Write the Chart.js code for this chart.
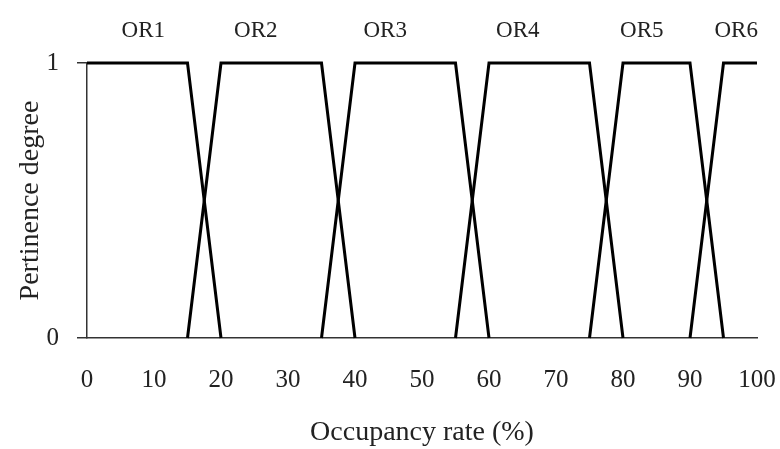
<!DOCTYPE html>
<html>
<head>
<meta charset="utf-8">
<script src="https://cdn.jsdelivr.net/npm/chart.js@4.4.0/dist/chart.umd.min.js"></script>
<style>
  html, body { margin: 0; padding: 0; background: #fff; }
  #wrap { width: 780px; height: 449px; }
</style>
</head>
<body>
<div id="wrap"><canvas id="fuzzyChart"></canvas></div>
<script>
// Membership functions for occupancy rate classes
const setNames = ['OR1', 'OR2', 'OR3', 'OR4', 'OR5', 'OR6'];
const or1X = [0, 15, 20];          const or1Y = [1, 1, 0];
const or2X = [15, 20, 35, 40];     const or2Y = [0, 1, 1, 0];
const or3X = [35, 40, 55, 60];     const or3Y = [0, 1, 1, 0];
const or4X = [55, 60, 75, 80];     const or4Y = [0, 1, 1, 0];
const or5X = [75, 80, 90, 95];     const or5Y = [0, 1, 1, 0];
const or6X = [90, 95, 100];        const or6Y = [0, 1, 1];
// x position of each class label (data units)
const labelX = [8.4, 25.2, 44.5, 64.3, 82.8, 96.9];
const xTicks = [0, 10, 20, 30, 40, 50, 60, 70, 80, 90, 100];
const yTicks = [0, 1];

const serif = '"Liberation Serif", "DejaVu Serif", serif';
const xs = [or1X, or2X, or3X, or4X, or5X, or6X];
const ys = [or1Y, or2Y, or3Y, or4Y, or5Y, or6Y];

const datasets = setNames.map((name, i) => ({
    label: name,
    data: xs[i].map((x, j) => ({ x: x, y: ys[i][j] })),
    borderColor: '#000',
    borderWidth: 3,
    pointRadius: 0,
    fill: false,
    tension: 0,
    clip: false
}));

// Draw OR labels above the plateaus
const setLabels = {
    id: 'setLabels',
    afterDraw(chart) {
        const ctx = chart.ctx;
        const xScale = chart.scales.x;
        ctx.save();
        ctx.font = '23px ' + serif;
        ctx.fillStyle = '#222';
        ctx.textAlign = 'center';
        ctx.textBaseline = 'middle';
        setNames.forEach((name, i) => {
            ctx.fillText(name, xScale.getPixelForValue(labelX[i]), 31);
        });
        ctx.restore();
    }
};

new Chart(document.getElementById('fuzzyChart').getContext('2d'), {
    type: 'line',
    data: { datasets: datasets },
    options: {
        responsive: true,
        maintainAspectRatio: false,
        animation: false,
        layout: { padding: { top: 63, right: 2, left: 10, bottom: 0 } },
        plugins: {
            legend: { display: false },
            tooltip: { enabled: false }
        },
        scales: {
            x: {
                type: 'linear',
                min: 0,
                max: 100,
                afterBuildTicks: function(scale) {
                    scale.ticks = xTicks.map(v => ({ value: v }));
                },
                afterFit: function(scale) {
                    scale.height = 111;
                    scale.paddingRight = 23;
                },
                grid: { display: true, drawOnChartArea: false, drawTicks: false },
                border: { color: '#333', width: 1.5 },
                ticks: {
                    color: '#222',
                    padding: 27,
                    maxRotation: 0,
                    font: { family: serif, size: 25 }
                },
                title: {
                    display: true,
                    text: 'Occupancy rate (%)',
                    color: '#222',
                    padding: { top: 18, bottom: 0 },
                    font: { family: serif, size: 28 }
                }
            },
            y: {
                type: 'linear',
                min: 0,
                max: 1,
                afterBuildTicks: function(scale) {
                    scale.ticks = yTicks.map(v => ({ value: v }));
                },
                afterFit: function(scale) { scale.width = 77; },
                grid: { display: true, drawOnChartArea: false, drawTicks: true, tickLength: 10, color: '#333', lineWidth: 1.5 },
                border: { color: '#333', width: 1.5 },
                ticks: {
                    color: '#222',
                    padding: 18,
                    font: { family: serif, size: 25 }
                },
                title: {
                    display: true,
                    text: 'Pertinence degree',
                    color: '#222',
                    padding: { bottom: 6 },
                    font: { family: serif, size: 28 }
                }
            }
        }
    },
    plugins: [setLabels]
});
</script>
</body>
</html>
